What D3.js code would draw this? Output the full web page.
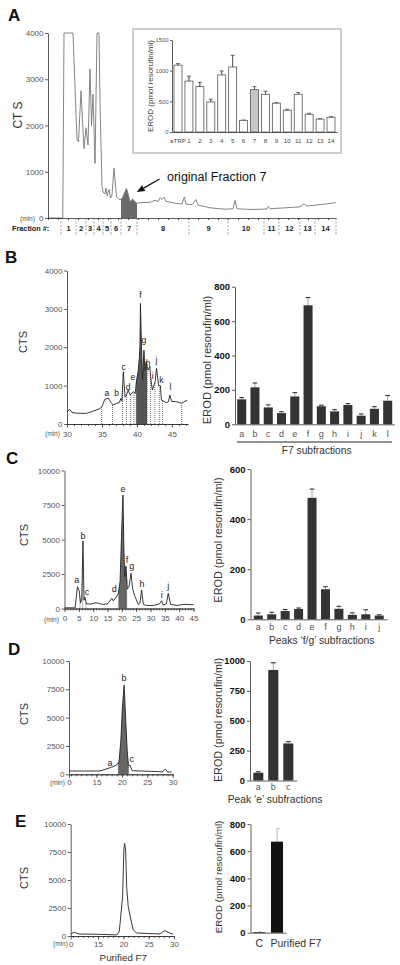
<!DOCTYPE html>
<html><head><meta charset="utf-8">
<script src="https://cdn.jsdelivr.net/npm/d3@7"></script>
<style>body{margin:0;background:#fff} svg{display:block}</style>
</head><body><svg id="c" width="400" height="965"></svg>
<script>
// ================= DATA =================
// Panel A chromatogram [min, CTS]
const traceA = [[0,0],[2.7,0],[2.95,0],[3.2,4000],[5.0,4000],[5.8,1690],[6.1,1650],[6.6,2750],[7.2,1500],[7.6,1950],[8.0,1580],[8.4,3220],[8.7,2000],[9.0,2680],[9.4,1180],[9.8,4000],[10.2,4000],[10.4,2500],[10.8,700],[11.0,560],[11.4,520],[11.6,650],[11.8,480],[12.2,620],[12.5,430],[12.8,500],[13.2,1080],[13.7,460],[14.4,390],[14.9,440],[15.4,570],[15.7,640],[16.1,490],[16.4,350],[16.9,410],[17.2,380],[17.7,320],[18.4,330],[20.4,340],[21.4,380],[22.0,360],[22.4,440],[22.8,400],[23.2,450],[23.6,360],[25.4,320],[26.8,300],[27.26,454],[27.6,300],[28.8,290],[29.6,400],[30.0,280],[32.4,220],[35.4,190],[37.0,200],[37.4,380],[37.8,200],[40.4,185],[42.8,190],[43.8,195],[44.06,250],[44.4,200],[47.4,220],[50.4,240],[51.2,310],[51.8,260],[54.4,290],[57.6,330]];
const fractionNames = ["1","2","3","4","5","6","7","8","9","10","11","12","13","14"];
const fractionBounds = [2.6,5.6,7.6,9.2,11.0,12.6,14.6,17.8,28.2,36.0,43.2,46.2,50.4,53.4,57.6];
const shadeA = [14.6,17.8];
const yTicksA = [0,1000,2000,3000,4000];
// Panel A inset
const insetCats = ["aTRP","1","2","3","4","5","6","7","8","9","10","11","12","13","14"];
const insetVals = [1090,830,740,490,930,1060,190,690,615,470,355,615,290,210,240];
const insetErr  = [25,80,70,45,65,190,5,50,50,10,15,30,15,8,10];
const insetTicks = [0,500,1000,1500];

// Panel B chromatogram
const traceB = [[30,320],[30.4,380],[30.7,300],[31.5,280],[32.8,278],[33.5,320],[34.2,365],[34.7,400],[35,450],[35.4,640],[35.9,677],[36.3,560],[36.6,495],[37.1,538],[37.5,560],[37.7,668],[37.85,600],[38.05,1362],[38.3,700],[38.5,755],[38.76,885],[39,760],[39.5,842],[39.76,800],[39.95,1146],[40.2,1406],[40.35,1753],[40.43,2013],[40.5,3142],[40.65,2000],[40.8,1146],[41.0,1927],[41.14,1400],[41.3,1623],[41.6,1400],[41.85,1500],[41.95,1233],[42.2,885],[42.6,1100],[42.8,1450],[43.1,1000],[43.35,1000],[43.5,625],[43.8,600],[44.2,555],[44.5,580],[44.7,755],[44.95,590],[45.7,580],[46.4,538],[46.9,600],[47.2,610]];
const shadeB = [39.9,41.45];
const dottedB = [34.95,36.5,37.95,38.5,39.1,39.57,41.95,42.57,43.2,43.67,46.4];
const peaksB = [["a",35.7,737],["b",37.1,737],["c",38.1,1414],["d",38.75,893],["e",39.4,1154],["f",40.5,3281],["g",41.0,2109],["h",41.6,1502],["i",42.25,1172],["j",42.8,1588],["k",43.5,1068],["l",44.8,893]];
const xTicksB = [30,35,40,45];
const yTicksB = [0,1000,2000,3000,4000];
const barCatsB = ["a","b","c","d","e","f","g","h","i","j","k","l"];
const barValsB = [145,215,98,65,162,692,105,75,112,50,90,137];
const barErrB  = [10,25,15,8,22,45,6,10,8,10,12,30];
const barTicksB = [0,200,400,600,800];

// Panel C
const traceC = [[0,50],[3.7,50],[4.5,1580],[5.1,1300],[5.6,420],[6.0,600],[6.45,4890],[6.8,600],[7.15,810],[7.6,330],[9.3,330],[11,420],[13.3,300],[15,330],[16.5,740],[17,550],[18,830],[18.8,1100],[19.4,2000],[19.95,5690],[20.4,8220],[20.7,4500],[21,2300],[21.2,2700],[21.45,3080],[21.9,1400],[22.5,1600],[23.2,2550],[23.8,1400],[24.6,850],[25.8,280],[26.3,380],[26.9,1340],[27.5,280],[28.6,220],[31,220],[33.1,330],[33.9,560],[34.4,250],[35.5,330],[36.2,1100],[37,300],[39.2,220],[41.5,300],[43.8,280],[45,280]];
const shadeC = [18.9,21.7];
const dottedC = [5.4,6.35,7.5];
const peaksC = [["a",4.25,1848],["b",6.45,5058],["c",7.85,1000],["d",17.4,1196],["e",20.4,8420],["f",21.8,3297],["g",23.5,2862],["h",27.0,1558],["i",33.9,761],["j",36.2,1413]];
const xTicksC = [0,5,10,15,20,25,30,35,40,45];
const yTicksC = [0,2500,5000,7500,10000];
const barCatsC = ["a","b","c","d","e","f","g","h","i","j"];
const barValsC = [15,20,33,41,485,120,42,18,20,15];
const barErrC  = [10,8,6,4,35,10,10,8,18,3];
const barTicksC = [0,200,400,600];

// Panel D
const traceD = [[9.6,290],[15.7,290],[16.7,440],[18,620],[19,830],[19.44,1120],[19.8,3000],[20.1,5900],[20.45,7860],[20.8,4400],[21.05,2050],[21.3,760],[21.6,800],[22,320],[27.5,230],[27.9,200],[28.6,460],[29,200],[29.8,200]];
const shadeD = [19.3,21.3];
const peaksD = [["a",17.67,706],["b",20.43,8212],["c",21.95,1086]];
const xTicksD = [9.6,15,20,25,30];
const yTicksD = [0,2500,5000,7500,10000];
const barCatsD = ["a","b","c"];
const barValsD = [65,925,310];
const barErrD  = [8,60,15];
const barTicksD = [0,250,500,750,1000];

// Panel E
const traceE = [[9.6,180],[10.3,330],[11.2,180],[15.1,150],[18.7,100],[19.2,400],[19.85,3510],[20.1,7680],[20.25,8280],[20.45,7600],[20.65,4400],[20.96,2620],[21.5,1430],[21.95,540],[22.6,270],[27.2,180],[28.2,480],[28.85,330],[29.8,150]];
const xTicksE = [9.6,15,20,25,30];
const yTicksE = [0,2500,5000,7500,10000];
const barCatsE = ["C","Purified F7"];
const barValsE = [5,670];
const barErrE  = [3,97];
const barTicksE = [0,200,400,600,800];

// ================= DRAWING =================
const FONT = '"Liberation Sans", Arial, Helvetica, sans-serif';
const svg = d3.select("#c");
const intFmt = d3.format("d");

function interp(data, t){
  for (let i=1;i<data.length;i++){
    if (data[i][0]>=t){ const [t0,v0]=data[i-1],[t1,v1]=data[i]; return v0+(v1-v0)*(t-t0)/(t1-t0); }
  }
  return data[data.length-1][1];
}
function styleAxis(g, color, fs, weight, tcol){
  g.attr("font-family", FONT);
  g.selectAll("path,line").attr("stroke", color).attr("stroke-width", 0.8);
  g.selectAll("text").attr("font-size", fs).attr("font-family", FONT).attr("font-weight", weight).attr("fill", tcol);
}
function text(x, y, s, o={}){
  return svg.append("text").attr("x",x).attr("y",y).text(s)
    .attr("font-family",FONT).attr("font-size",o.fs||10).attr("font-weight",o.fw||"normal")
    .attr("fill",o.fill||"#222").attr("text-anchor",o.anchor||"start");
}
function vtext(x, y, s, o={}){
  return svg.append("text").attr("transform",`translate(${x},${y}) rotate(-90)`).text(s)
    .attr("font-family",FONT).attr("font-size",o.fs||10).attr("fill",o.fill||"#333").attr("text-anchor","middle");
}

function chrom(o){
  const g = svg.append("g");
  const x = d3.scaleLinear().domain(o.xd).range(o.xr);
  const y = d3.scaleLinear().domain(o.yd).range(o.yr);
  if (o.shade){
    const [a,b] = o.shade;
    const pts = [[a,interp(o.data,a)], ...o.data.filter(d=>d[0]>a&&d[0]<b), [b,interp(o.data,b)]];
    g.append("path").attr("d", d3.area().x(d=>x(d[0])).y0(y(0)).y1(d=>y(d[1]))(pts)).attr("fill", o.shadeColor||"#666");
    if (o.shadeDots) [a,b].forEach(t=>g.append("line").attr("x1",x(t)).attr("x2",x(t)).attr("y1",y(0)).attr("y2",y(interp(o.data,t)))
      .attr("stroke","#333").attr("stroke-width",0.7).attr("stroke-dasharray","1,1"));
  }
  (o.dotted||[]).forEach(t=>g.append("line").attr("x1",x(t)).attr("x2",x(t)).attr("y1",y(0)).attr("y2",y(interp(o.data,t)))
      .attr("stroke","#333").attr("stroke-width",0.7).attr("stroke-dasharray","1,1"));
  g.append("path").attr("d", d3.line().x(d=>x(d[0])).y(d=>y(d[1]))(o.data))
    .attr("fill","none").attr("stroke",o.lineColor||"#222").attr("stroke-width",o.lw||0.9).attr("stroke-linejoin","round");
  const ya = g.append("g").attr("transform",`translate(${o.xr[0]},0)`)
    .call(d3.axisLeft(y).tickValues(o.yTicks).tickFormat(intFmt).tickSize(3).tickPadding(1.5).tickSizeOuter(0));
  styleAxis(ya, "#333", 8, "normal", "#555");
  const xm = g.append("g").attr("transform",`translate(0,${o.yr[0]})`)
    .call(d3.axisBottom(x).tickValues(o.minor).tickSize(2).tickFormat("").tickSizeOuter(0));
  styleAxis(xm, "#333", 8, "normal", "#555");
  if (o.xTicks){
    const xa = g.append("g").attr("transform",`translate(0,${o.yr[0]})`)
      .call(d3.axisBottom(x).tickValues(o.xTicks).tickSize(3.5).tickPadding(o.xPad).tickSizeOuter(0).tickFormat(o.xFmt||intFmt));
    styleAxis(xa, "#333", 8, "normal", "#555");
  }
  (o.peaks||[]).forEach(p=>g.append("text").attr("x",x(p[1])).attr("y",y(p[2])).text(p[0])
    .attr("text-anchor","middle").attr("font-family",FONT).attr("font-size",o.peakFs||9).attr("fill","#222"));
  return {x,y};
}

function bars(o){
  const g = svg.append("g");
  const x = d3.scaleBand().domain(o.cats).range(o.xr).paddingInner(o.pi).paddingOuter(o.po);
  const y = d3.scaleLinear().domain(o.yd).range(o.yr);
  const idx = d3.range(o.cats.length);
  const cx = i => x(o.cats[i]) + x.bandwidth()/2;
  g.selectAll(".ev").data(idx).join("line")
    .attr("x1",cx).attr("x2",cx).attr("y1",i=>y(o.both?o.vals[i]-o.err[i]:o.vals[i])).attr("y2",i=>y(o.vals[i]+o.err[i]))
    .attr("stroke",o.errColor||"#777").attr("stroke-width",0.7);
  g.selectAll(".ec").data(idx).join("line")
    .attr("x1",i=>cx(i)-o.cap).attr("x2",i=>cx(i)+o.cap).attr("y1",i=>y(o.vals[i]+o.err[i])).attr("y2",i=>y(o.vals[i]+o.err[i]))
    .attr("stroke",o.capColor||"#222").attr("stroke-width",o.capW||1);
  g.selectAll(".bar").data(idx).join("rect")
    .attr("x",i=>x(o.cats[i])).attr("width",x.bandwidth())
    .attr("y",i=>y(o.vals[i])).attr("height",i=>y(0)-y(o.vals[i]))
    .attr("fill",i=>o.fill(i)).attr("stroke",o.stroke||"none").attr("stroke-width",o.sw||0);
  if (o.both){
    g.selectAll(".ev2").data(idx).join("line")
      .attr("x1",cx).attr("x2",cx).attr("y1",i=>y(o.vals[i])).attr("y2",i=>y(o.vals[i]+o.err[i]))
      .attr("stroke",o.stroke).attr("stroke-width",0.8);
  }
  const ya = g.append("g").attr("transform",`translate(${o.xr[0]},0)`)
    .call(d3.axisLeft(y).tickValues(o.ticks).tickFormat(intFmt).tickSize(o.tickSize||3).tickPadding(o.tickPad||2).tickSizeOuter(0));
  styleAxis(ya, "#333", o.tfs, o.tfw, o.tcol);
  const xa = g.append("g").attr("transform",`translate(0,${o.yr[0]})`)
    .call(d3.axisBottom(x).tickSize(0).tickPadding(o.xPad).tickSizeOuter(0));
  styleAxis(xa, "#333", o.xfs, "normal", o.xcol||"#444");
  if (o.hideXLabels) xa.selectAll("text").remove();
  return {x,y,g};
}

// ---------- Panel A ----------
text(8, 21, "A", {fs:17, fw:"bold", fill:"#111"});
const A = chrom({data:traceA, xd:[0,57.6], xr:[48,336], yd:[0,4000], yr:[218,33],
  yTicks:yTicksA, minor:d3.range(0,57,2), shade:shadeA, shadeColor:"#6a6a6a", lineColor:"#777", lw:0.9});
vtext(21.5, 115, "CT S", {fs:12, fill:"#333"});
text(20, 220.5, "(min)", {fs:6.5, fill:"#555"});
fractionBounds.forEach(t=>svg.append("line").attr("x1",A.x(t)).attr("x2",A.x(t)).attr("y1",218).attr("y2",236)
  .attr("stroke","#777").attr("stroke-width",0.7).attr("stroke-dasharray","2,1.5"));
fractionNames.forEach((n,i)=>text((A.x(fractionBounds[i])+A.x(fractionBounds[i+1]))/2, 231, n, {fs:7.5, fw:"bold", anchor:"middle", fill:"#222"}));
text(12, 231, "Fraction #:", {fs:7.3, fw:"bold", fill:"#222"});
{
  const x2 = A.x(17.75), y2 = A.y(560), x1 = 159.5, y1 = 179;
  const ang = Math.atan2(y2-y1, x2-x1), L = 8, W = 3.2;
  const bx = x2 - L*Math.cos(ang), by = y2 - L*Math.sin(ang);
  svg.append("line").attr("x1",x1).attr("y1",y1).attr("x2",bx).attr("y2",by).attr("stroke","#111").attr("stroke-width",1.3);
  svg.append("path").attr("d",`M${x2},${y2}L${bx - W*Math.sin(ang)},${by + W*Math.cos(ang)}L${bx + W*Math.sin(ang)},${by - W*Math.cos(ang)}Z`).attr("fill","#111");
  text(167, 181, "original Fraction 7", {fs:12.5, fill:"#111"});
}
svg.append("rect").attr("x",133).attr("y",29).attr("width",208).attr("height",124).attr("fill","#fff").attr("stroke","#bdbdbd").attr("stroke-width",1.5);
bars({cats:insetCats, vals:insetVals, err:insetErr, xr:[172,337], pi:0.27, po:0.184, yd:[0,1500], yr:[132,40],
  fill:i=>i===7?"#c8c8c8":"#fff", stroke:"#555", sw:0.8, both:true, cap:2, capColor:"#444", capW:0.8, errColor:"#555",
  ticks:insetTicks, tfs:5.8, tfw:"normal", tcol:"#555", tickSize:2, tickPad:1.5, xPad:7, xfs:6.2, xcol:"#444"});
vtext(153, 86, "EROD (pmol resorufin/ml)", {fs:8, fill:"#444"});

// ---------- Panel B ----------
text(5, 263, "B", {fs:17, fw:"bold", fill:"#111"});
chrom({data:traceB, xd:[30,47.3], xr:[67,188], yd:[0,4000], yr:[424,270.5],
  yTicks:yTicksB, minor:d3.range(30,48,1), xTicks:xTicksB, xPad:4, shade:shadeB, shadeColor:"#555", shadeDots:true,
  dotted:dottedB, peaks:peaksB, peakFs:8.5, lineColor:"#222", lw:0.9});
vtext(26.5, 342, "CTS", {fs:11});
text(45, 436, "(min)", {fs:6.5, fill:"#555"});
bars({cats:barCatsB, vals:barValsB, err:barErrB, xr:[235,394.4], pi:0.32, po:0.165, yd:[0,800], yr:[424.3,286.7],
  fill:()=>"#333", cap:2.3, ticks:barTicksB, tfs:9.5, tfw:"bold", tcol:"#111", xPad:6.3, xfs:9, xcol:"#555"});
svg.append("line").attr("x1",237).attr("x2",392).attr("y1",442).attr("y2",442).attr("stroke","#222").attr("stroke-width",1);
text(316.7, 454, "F7 subfractions", {fs:10.2, anchor:"middle", fill:"#333"});
vtext(211, 360, "EROD (pmol resorufin/ml)", {fs:11.2});

// ---------- Panel C ----------
text(6, 463.5, "C", {fs:17, fw:"bold", fill:"#111"});
chrom({data:traceC, xd:[0,45], xr:[64.5,193.5], yd:[0,10000], yr:[608.5,470.5],
  yTicks:yTicksC, minor:d3.range(0,46,1), xTicks:xTicksC, xPad:3.3, shade:shadeC, shadeColor:"#666", shadeDots:true,
  dotted:dottedC, peaks:peaksC, peakFs:9, lineColor:"#222", lw:0.9});
vtext(28, 535, "CTS", {fs:11});
text(44, 622, "(min)", {fs:6.5, fill:"#555"});
bars({cats:barCatsC, vals:barValsC, err:barErrC, xr:[250.5,387], pi:0.33, po:0.245, yd:[0,600], yr:[619.3,469],
  fill:()=>"#333", cap:2.3, ticks:barTicksC, tfs:9.5, tfw:"bold", tcol:"#111", xPad:4.3, xfs:9, xcol:"#555"});
text(321.7, 644, "Peaks \u2018f/g\u2019 subfractions", {fs:10.3, anchor:"middle", fill:"#333"});
vtext(222, 540, "EROD (pmol resorufin/ml)", {fs:10.9});

// ---------- Panel D ----------
text(8, 655, "D", {fs:17, fw:"bold", fill:"#111"});
chrom({data:traceD, xd:[9.6,30], xr:[69,172.7], yd:[0,10000], yr:[774.3,661],
  yTicks:yTicksD, minor:d3.range(10,31,1), xTicks:xTicksD, xPad:1.5, xFmt:d=>d<10?"0":intFmt(d),
  shade:shadeD, shadeColor:"#666", shadeDots:true, peaks:peaksD, peakFs:9, lineColor:"#222", lw:0.9});
vtext(28, 714, "CTS", {fs:11});
text(50, 784.5, "(min)", {fs:6.5, fill:"#555"});
bars({cats:barCatsD, vals:barValsD, err:barErrD, xr:[250,296.6], pi:0.33, po:0.218, yd:[0,1000], yr:[780.5,661],
  fill:()=>"#333", cap:2.5, ticks:barTicksD, tfs:9.3, tfw:"bold", tcol:"#111", xPad:3.6, xfs:9, xcol:"#555"});
text(275, 802.5, "Peak \u2018e\u2019 subfractions", {fs:10.3, anchor:"middle", fill:"#333"});
vtext(221.5, 720, "EROD (pmol resorufin/ml)", {fs:10.8});

// ---------- Panel E ----------
text(15, 827, "E", {fs:17, fw:"bold", fill:"#111"});
chrom({data:traceE, xd:[9.6,30], xr:[70.7,174], yd:[0,10000], yr:[936,824],
  yTicks:yTicksE, minor:d3.range(10,31,1), xTicks:xTicksE, xPad:1.5, xFmt:d=>d<10?"0":intFmt(d),
  lineColor:"#222", lw:0.9});
vtext(28, 878, "CTS", {fs:11});
text(53, 946, "(min)", {fs:6.5, fill:"#555"});
text(123.3, 960.5, "Purified F7", {fs:9.8, anchor:"middle", fill:"#333"});
const E = bars({cats:barCatsE, vals:barValsE, err:barErrE, xr:[250.5,285.8], pi:0.32, po:0.157, yd:[0,800], yr:[932.7,824],
  fill:()=>"#111", cap:0, capW:0, errColor:"#999", ticks:barTicksE, tfs:9.5, tfw:"bold", tcol:"#111", xPad:6, xfs:10, hideXLabels:true});
text(E.x("C")+E.x.bandwidth()/2, 946.5, "C", {fs:10.5, anchor:"middle", fill:"#333"});
text(E.x("Purified F7")-0.5, 946.5, "Purified F7", {fs:10.5, fill:"#333"});
barCatsE.forEach((c,i)=>svg.append("line").attr("x1",E.x(c)+E.x.bandwidth()/2).attr("x2",E.x(c)+E.x.bandwidth()/2+2.5)
  .attr("y1",E.y(barValsE[i]+barErrE[i])).attr("y2",E.y(barValsE[i]+barErrE[i])).attr("stroke","#999").attr("stroke-width",0.7));
vtext(221.6, 877, "EROD (pmol resorufin/ml)", {fs:9.8});
</script></body></html>
